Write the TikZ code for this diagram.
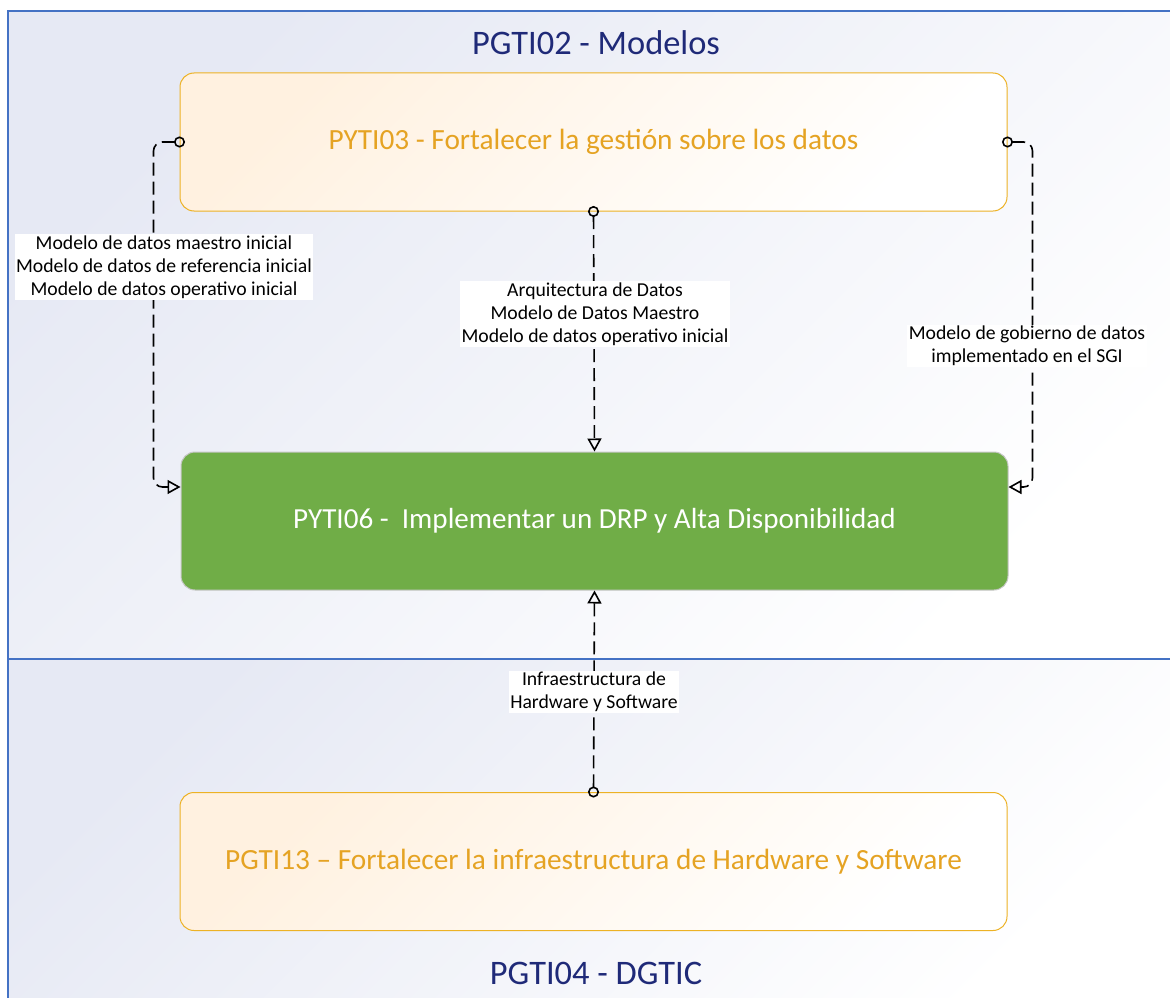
\documentclass[tikz,border=0pt]{standalone}
\usepackage{fontspec}
\setmainfont{Carlito}
\usetikzlibrary{arrows.meta}
\definecolor{laneblue}{HTML}{4472C4}
\definecolor{navy}{HTML}{1F2A78}
\definecolor{boxorange}{HTML}{EDB225}
\definecolor{txtorange}{HTML}{E5A323}
\definecolor{peach}{HTML}{FFF1E0}
\definecolor{lav}{HTML}{E6E9F4}
\definecolor{drpgreen}{HTML}{70AD47}
\begin{document}
\begin{tikzpicture}[x=1pt,y=-1pt,
  lane/.style={draw=laneblue, line width=1.6pt, top color=lav, bottom color=white, shading angle=45},
  obox/.style={draw=boxorange, line width=1pt, rounded corners=14pt, minimum width=827pt, minimum height=138pt,
     text=txtorange, font=\fontsize{29.3}{35}\selectfont, top color=peach, bottom color=white, shading angle=45},
  gbox/.style={draw=black!22, line width=1pt, fill=drpgreen, rounded corners=14pt, minimum width=827pt, minimum height=138pt,
     text=white, font=\fontsize{29.1}{35}\selectfont},
  title/.style={text=navy, font=\fontsize{34.4}{40}\selectfont},
  lbl/.style={fill=white, inner sep=1.5pt, align=center, font=\fontsize{19.7}{23}\selectfont},
  conn/.style={draw=black, line width=1.6pt, dash pattern=on 13pt off 6pt, rounded corners=9pt,
     {Circle[open,length=11pt,width=11pt]}-{Triangle[open,length=13pt,width=14pt]}, shorten <=-5.5pt}
]
\useasboundingbox (0,0) rectangle (1170,998);
\fill[white] (0,0) rectangle (1170,998);
% lanes
\path[lane] (8,11) rectangle (1185,659);
\path[lane] (8,659) rectangle (1185,1012);
\node[title] (t1) at (596,43) {PGTI02 - Modelos};
\node[title] (t2) at (596,973) {PGTI04 - DGTIC};
% boxes
\node[obox] (p3) at (593.5,142) {PYTI03 - Fortalecer la gestión sobre los datos};
\node[gbox] (p6) at (594.5,521) {PYTI06 -\ \ Implementar un DRP y Alta Disponibilidad};
\node[obox] (p13) at (593.5,861.5) {PGTI13 – Fortalecer la infraestructura de Hardware y Software};
% connectors
\draw[conn] (p3.west) -- ++(-26,0) |- ([yshift=34pt]p6.west);
\draw[conn] (p3.east) -- ++(25,0) |- ([yshift=34pt]p6.east);
\draw[conn] (p3.south) -- (p6.north);
\draw[conn] (p13.north) -- (p6.south);
% labels
\node[lbl] (l1) at (164,267) {Modelo de datos maestro inicial\\Modelo de datos de referencia inicial\\Modelo de datos operativo inicial};
\node[lbl] (l2) at (595,314) {Arquitectura de Datos\\Modelo de Datos Maestro\\Modelo de datos operativo inicial};
\node[lbl] (l3) at (1027,346) {Modelo de gobierno de datos\\implementado en el SGI};
\node[lbl] (l4) at (594,692) {Infraestructura de\\Hardware y Software};
\end{tikzpicture}
\end{document}
